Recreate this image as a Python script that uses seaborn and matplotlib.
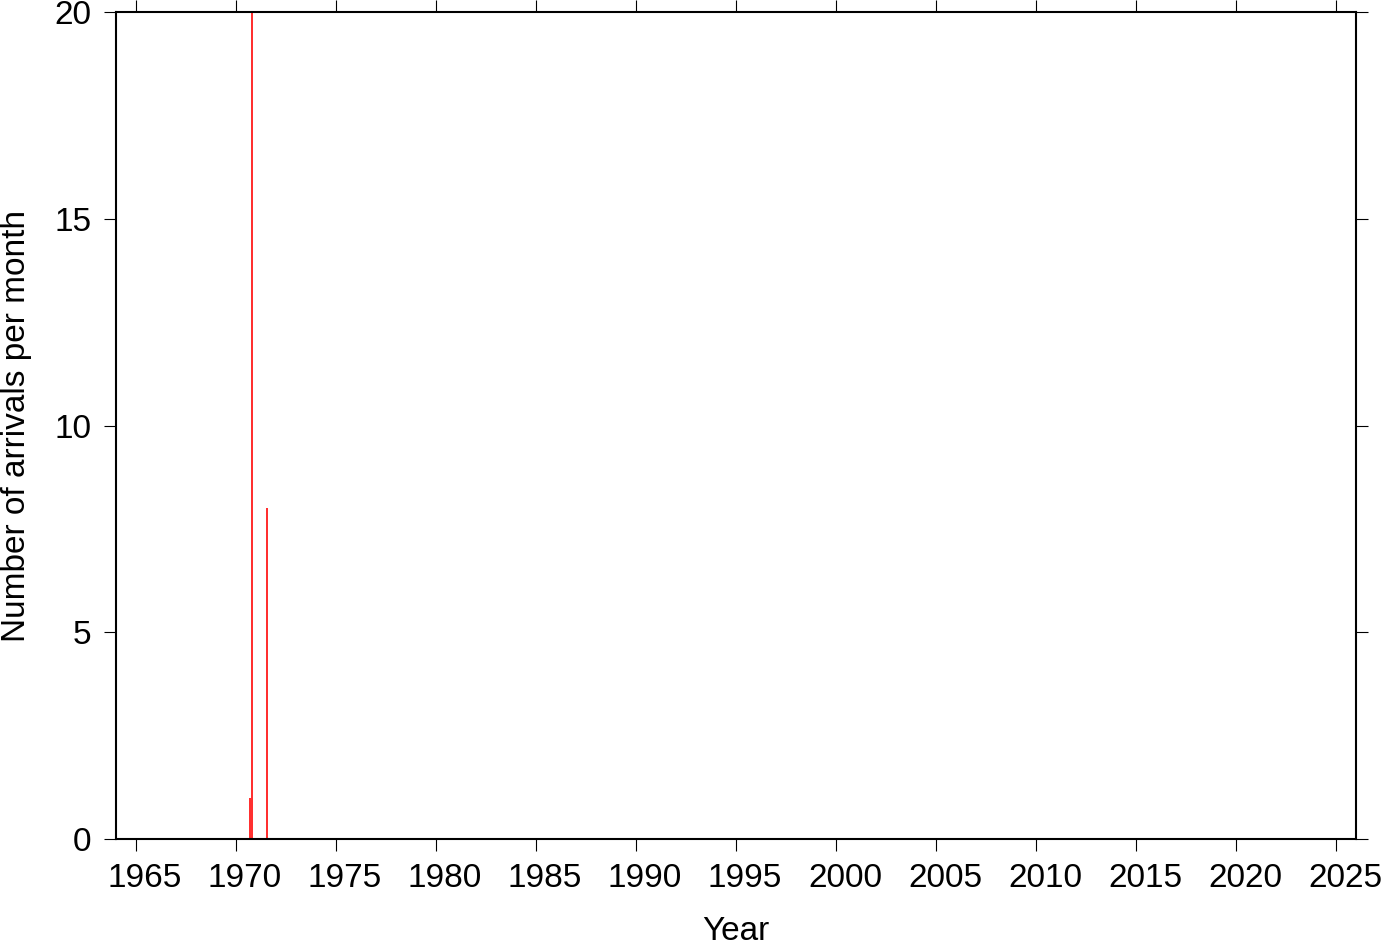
import numpy as np
import pandas as pd
import matplotlib
matplotlib.use("Agg")
import matplotlib.pyplot as plt
import matplotlib.transforms as mtransforms
import seaborn as sns

# monthly arrival counts (decimal year of month start)
month_start = [1970 + 8 / 12, 1970 + 9 / 12, 1971 + 6 / 12]
arrivals = [1, 20, 8]
year_ticks = [1965, 1970, 1975, 1980, 1985, 1990, 1995, 2000, 2005, 2010, 2015, 2020, 2025]
count_ticks = [0, 5, 10, 15, 20]

sns.set_style("white")
plt.rcParams['font.family'] = ['Liberation Sans', 'DejaVu Sans']
plt.rcParams['text.color'] = 'black'
plt.rcParams['axes.labelcolor'] = 'black'
plt.rcParams['xtick.color'] = 'black'
plt.rcParams['ytick.color'] = 'black'

df = pd.DataFrame({'month': [m + 1 / 24 for m in month_start], 'count': arrivals})
bins = list(np.arange(1964, 2026 + 1e-6, 1 / 12))

fig, ax = plt.subplots(figsize=(13.82, 9.42), dpi=100)
fig.subplots_adjust(left=116 / 1382, right=1356 / 1382, top=1 - 12 / 942, bottom=1 - 839 / 942)

sns.histplot(data=df, x='month', weights='count', bins=bins,
             color='#ff3030', alpha=1, linewidth=0, ax=ax)

ax.set_xlim(1964, 2026)
ax.set_ylim(0, 20)
ax.set_xticks(year_ticks)
ax.set_yticks(count_ticks)
ax.set_xlabel('Year', fontsize=24, labelpad=15.5)
ax.set_ylabel('Number of arrivals per month', fontsize=24, labelpad=16)
ax.tick_params(axis='both', which='both', direction='out', length=8.5, width=0.8,
               labelsize=24, pad=9, top=True, right=True, bottom=True, left=True,
               labeltop=False, labelright=False, colors='black')
for s in ax.spines.values():
    s.set_visible(True)
    s.set_linewidth(1.5)
    s.set_color('black')
ax.grid(False)

# year labels sit a little right of their ticks in the original
shift = mtransforms.ScaledTranslation(0.09, 0, fig.dpi_scale_trans)
for lab in ax.get_xticklabels():
    lab.set_transform(lab.get_transform() + shift)

plt.savefig('out.png', dpi=100)
plt.close()
